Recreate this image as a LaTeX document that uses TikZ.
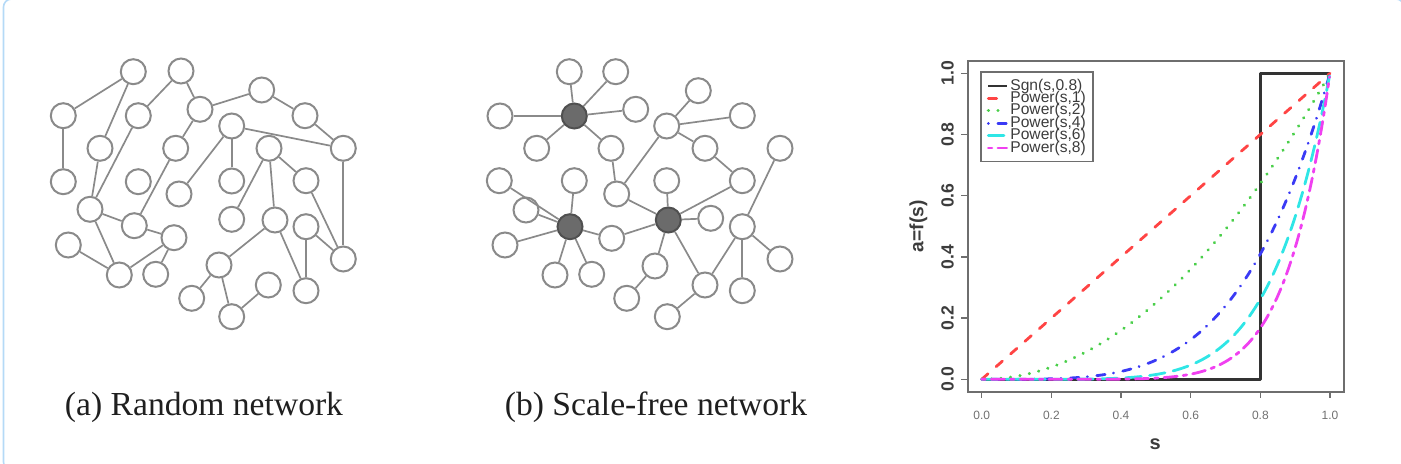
\documentclass[tikz,border=0pt]{standalone}
\usepackage{fontspec}
\setmainfont{Liberation Serif}
\newfontfamily\arialf{Liberation Sans}
\definecolor{framecol}{HTML}{B5DAF7}
\definecolor{netgray}{HTML}{8A8A8A}
\definecolor{hubfill}{HTML}{6B6B6B}
\definecolor{hubdraw}{HTML}{505050}
\definecolor{boxgray}{HTML}{6E6E6E}
\definecolor{sgncol}{HTML}{333333}
\definecolor{cred}{HTML}{FF4444}
\definecolor{cgreen}{HTML}{4ACF4A}
\definecolor{cblue}{HTML}{3A3AF5}
\definecolor{ccyan}{HTML}{2FE6E6}
\definecolor{cmag}{HTML}{F040F0}
\definecolor{txtgray}{HTML}{3C3C3C}
\definecolor{ticktxt}{HTML}{707070}
\begin{document}
\begin{tikzpicture}[x=0.5pt,y=-0.5pt,
  nd/.style={circle,draw=netgray,fill=white,line width=1pt,minimum size=12.5pt,inner sep=0pt},
  hub/.style={nd,fill=hubfill,draw=hubdraw},
  edge/.style={draw=netgray,line width=0.85pt},
  capt/.style={font=\fontsize{16.8pt}{18pt}\selectfont,text=black!88,inner sep=0pt,anchor=base},
  crv/.style={line width=1.4pt,line cap=round,line join=round},
  sgn/.style={crv,draw=sgncol,line cap=butt},
  pw1/.style={crv,draw=cred,dash pattern=on 4.2pt off 5.4pt},
  pw2/.style={crv,draw=cgreen,line width=1.6pt,dash pattern=on 0.1pt off 4.7pt},
  pw4/.style={crv,draw=cblue,dash pattern=on 0.1pt off 4.7pt on 4.2pt off 4.2pt},
  pw6/.style={crv,draw=ccyan,dash pattern=on 7.8pt off 4.2pt},
  pw8/.style={crv,draw=cmag,dash pattern=on 1.8pt off 3pt on 6.6pt off 3pt},
  legtxt/.style={font=\arialf\fontsize{7.8pt}{8pt}\selectfont,text=txtgray,anchor=west,inner sep=0pt},
  ytl/.style={font=\arialf\bfseries\fontsize{8.8pt}{9pt}\selectfont,text=txtgray,rotate=90,inner sep=0pt},
  xtl/.style={font=\arialf\fontsize{6pt}{7pt}\selectfont,text=ticktxt,inner sep=0pt},
  axl/.style={draw=boxgray,line width=0.75pt}]
\useasboundingbox (0,0) rectangle (1401,464);
\draw[framecol,line width=0.8pt,rounded corners=4pt] (3.5,-1) rectangle (1404,470);

% ---------- (a) random network ----------
\foreach \n/\x/\y in {1/133.3/71.7,2/181/71,3/63.3/115.7,4/138.3/115.7,5/200/109.3,
  6/261.7/90,7/305/115.7,8/231.7/126,9/343.3/148.3,10/100/148.3,11/175.7/148.3,
  12/269/148.3,13/63.3/181.7,14/138.3/181.7,15/179/194,16/231.7/181,17/306/180.7,
  18/90/209.3,19/134.3/225.7,20/231.7/219.3,21/275/220,22/306/226.7,23/174/237.7,
  24/68.3/245,25/119.3/275,26/155.7/274.3,27/343.3/259,28/219/265,29/268.3/285,
  30/191.7/298.3,31/306/290.7,32/231.7/316.7}
  \node[nd] (a\n) at (\x,\y) {};
\foreach \u/\v in {3/1,3/13,1/10,10/18,4/18,2/4,2/5,5/6,6/7,7/9,5/11,11/19,8/9,8/16,
  8/15,12/20,12/21,12/17,17/27,9/27,22/27,22/31,21/31,21/28,28/30,28/32,32/29,18/19,
  18/25,24/25,19/23,23/25,23/26}
  \draw[edge] (a\u) -- (a\v);

% ---------- (b) scale-free network ----------
\foreach \n/\x/\y in {1/569.3/71.7,2/615.7/71.7,3/500/116,5/635.7/109.3,
  6/698.3/90.7,7/666.7/126,8/742.3/115.7,9/536.7/148.3,10/611/148.3,11/705/148.3,
  12/780/148.3,13/499.3/180.7,14/574.3/180.7,15/742.3/180.7,16/616.7/194,17/666.7/180.7,
  18/526/210,21/710.7/218.3,22/742.3/226.7,23/611.7/238.3,
  24/505/245,25/555/275,26/591.7/274.3,27/780/259,28/655/266,29/705/285,
  30/626.7/298.3,31/742.3/290.7,32/667.3/316.7}
  \node[nd] (b\n) at (\x,\y) {};
\node[hub] (b4) at (574.3,116) {};
\node[hub] (b19) at (570,226.7) {};
\node[hub] (b20) at (668.3,220) {};
\foreach \u/\v in {3/4,1/4,2/4,5/4,9/4,4/10,10/16,16/7,7/6,7/8,7/11,11/15,15/20,17/20,
  16/20,20/21,20/23,20/28,20/29,28/30,29/32,29/22,22/31,22/27,12/22,13/19,18/19,24/19,
  14/19,19/23,19/25,19/26}
  \draw[edge] (b\u) -- (b\v);

% ---------- captions ----------
\node[capt] (capa) at (204,415) {(a) Random network};
\node[capt] (capb) at (656,415) {(b) Scale-free network};

% ---------- plot ----------
\begin{scope}[shift={(981.7,379.3)},x=174.15pt,y=153pt]
  \draw[draw=boxgray,line width=1pt] (-0.04,-0.04) rectangle (1.04,1.04);
  \foreach \t/\l in {0/0.0,0.2/0.2,0.4/0.4,0.6/0.6,0.8/0.8,1/1.0}{
    \draw[axl] (\t,-0.04) -- (\t,-0.06);
    \draw[axl] (-0.04,\t) -- (-0.059,\t);
    \node[xtl] (xt\l) at (\t,-0.1167) {\l};
    \node[ytl] (yt\l) at (-0.0982,\t) {\l};
  }
  \node[ytl,font=\arialf\bfseries\fontsize{9.6pt}{10pt}\selectfont] (ylab) at (-0.182,0.5) {a=f(s)};
  \node[font=\arialf\bfseries\fontsize{10pt}{11pt}\selectfont,text=txtgray,inner sep=0pt] (xlab) at (0.498,-0.211) {s};
  \draw[sgn] (0,0) -- (0.8,0) -- (0.8,1) -- (1,1);
  \draw[pw1] (0,0) -- (1,1);
  \draw[pw2] plot[domain=0:1,samples=100,smooth] (\x,{\x^2});
  \draw[pw4] plot[domain=0:1,samples=100,smooth] (\x,{\x^4});
  \draw[pw6] plot[domain=0:1,samples=100,smooth] (\x,{\x^6});
  \draw[pw8] plot[domain=0:1,samples=100,smooth] (\x,{\x^8});
\end{scope}

% ---------- legend ----------
\draw[draw=boxgray,line width=0.8pt] (981,72.3) rectangle (1093,161.7);
\draw[sgn] (988.3,86) -- (1006.7,86);
\draw[pw1] (988.3,98.4) -- (1006.7,98.4);
\draw[pw2] (988.3,110.8) -- (1006.7,110.8);
\draw[pw4] (988.3,123.2) -- (1006.7,123.2);
\draw[pw6] (988.3,135.6) -- (1006.7,135.6);
\draw[pw8] (988.3,148) -- (1006.7,148);
\node[legtxt] (l1) at (1010,86) {Sgn(s,0.8)};
\node[legtxt] (l2) at (1010,98.4) {Power(s,1)};
\node[legtxt] (l3) at (1010,110.8) {Power(s,2)};
\node[legtxt] (l4) at (1010,123.2) {Power(s,4)};
\node[legtxt] (l5) at (1010,135.6) {Power(s,6)};
\node[legtxt] (l6) at (1010,148) {Power(s,8)};
\end{tikzpicture}
\end{document}
